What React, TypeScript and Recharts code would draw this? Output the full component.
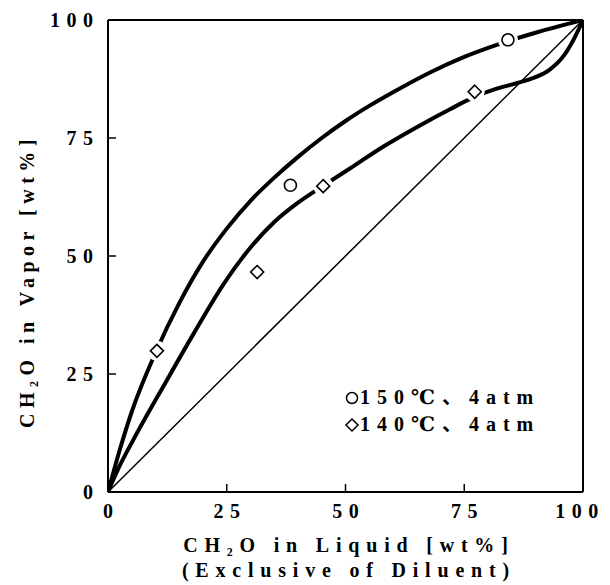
import React from 'react';
import { ComposedChart, Line, Scatter, XAxis, YAxis, ReferenceLine } from 'recharts';

const xTicks = [0, 25, 50, 75, 100];
const yTicks = [0, 25, 50, 75, 100];

const curve150 = [
  { x: 0, y: 0 }, { x: 2.5, y: 9 }, { x: 5, y: 17 }, { x: 10, y: 29.5 },
  { x: 15, y: 40 }, { x: 20, y: 48.8 }, { x: 25, y: 55.8 }, { x: 30, y: 61.7 },
  { x: 35, y: 66.6 }, { x: 40, y: 71 }, { x: 45, y: 75 }, { x: 50, y: 78.6 },
  { x: 55, y: 81.8 }, { x: 60, y: 84.7 }, { x: 68, y: 89 }, { x: 75, y: 92.2 },
  { x: 82, y: 94.8 }, { x: 90, y: 97.3 }, { x: 100, y: 100 },
];

const curve140 = [
  { x: 0, y: 0 }, { x: 2, y: 4.6 }, { x: 5.3, y: 11 }, { x: 12.4, y: 23.7 },
  { x: 18, y: 33.5 }, { x: 24.3, y: 44 }, { x: 30, y: 51.8 }, { x: 35, y: 57.2 },
  { x: 40, y: 61.3 }, { x: 45.5, y: 65 }, { x: 51, y: 68.6 }, { x: 58, y: 73.2 },
  { x: 65, y: 77.3 }, { x: 72, y: 81.1 }, { x: 77.4, y: 83.8 }, { x: 82, y: 85.5 },
  { x: 86, y: 86.6 }, { x: 90, y: 87.9 }, { x: 93, y: 89.5 }, { x: 96, y: 92.5 },
  { x: 98, y: 95.8 }, { x: 100, y: 100 },
];

const diagonal = [{ x: 0, y: 0 }, { x: 100, y: 100 }];

const points150 = [{ x: 38.4, y: 65 }, { x: 84.2, y: 95.8 }];
const points140 = [{ x: 10.3, y: 29.9 }, { x: 31.4, y: 46.6 }, { x: 45.3, y: 64.8 }, { x: 77.2, y: 84.8 }];

const series150 = '150℃、4atm';
const series140 = '140℃、4atm';
const xTitle1 = 'CH₂O in Liquid [wt%]';
const xTitle2 = '(Exclusive of Diluent)';
const yTitle = 'CH₂O in Vapor [wt%]';

const FONT = '"Liberation Serif", "DejaVu Serif", "Noto Sans CJK JP", serif';

const CircleShape = (props: any) => {
  const { cx, cy } = props;
  if (cx == null || cy == null) return null;
  return (
    <g>
      <circle cx={cx} cy={cy} r={10} fill="#fff" />
      <circle cx={cx} cy={cy} r={6} fill="#fff" stroke="#000" strokeWidth={1.6} />
    </g>
  );
};

const DiamondShape = (props: any) => {
  const { cx, cy } = props;
  if (cx == null || cy == null) return null;
  const d = 6.5;
  return (
    <g>
      <circle cx={cx} cy={cy} r={10} fill="#fff" />
      <polygon
        points={`${cx},${cy - d} ${cx + d},${cy} ${cx},${cy + d} ${cx - d},${cy}`}
        fill="#fff"
        stroke="#000"
        strokeWidth={1.6}
      />
    </g>
  );
};

const XTick = (props: any) => {
  const { x, y, payload } = props;
  const v = payload.value;
  const shift = v === 100 ? -3 : 3.2;
  return (
    <g>
      {v !== 0 && v !== 100 && <line x1={x} x2={x} y1={y} y2={y - 8} stroke="#000" strokeWidth={1.5} />}
      <text x={x + shift} y={y + 26} textAnchor="middle" fontFamily={FONT} fontWeight={700} fontSize={20} letterSpacing={6.5} fill="#000">
        {v}
      </text>
    </g>
  );
};

const YTick = (props: any) => {
  const { x, y, payload } = props;
  const v = payload.value;
  return (
    <g>
      {v !== 0 && v !== 100 && <line x1={x} x2={x + 8} y1={y} y2={y} stroke="#000" strokeWidth={1.5} />}
      <text x={x - 8.5} y={y + 6.8} textAnchor="end" fontFamily={FONT} fontWeight={700} fontSize={20} letterSpacing={6.5} fill="#000">
        {v}
      </text>
    </g>
  );
};

const XTitle = (props: any) => {
  const vb = props.viewBox || {};
  const cx = vb.x + vb.width / 2 + 3.4;
  return (
    <g>
      <text x={cx} y={vb.y + 60} textAnchor="middle" fontFamily={FONT} fontWeight={700} fontSize={20} letterSpacing={6.8} fill="#000">
        {xTitle1}
      </text>
      <text x={cx} y={vb.y + 85} textAnchor="middle" fontFamily={FONT} fontWeight={700} fontSize={20} letterSpacing={6.8} fill="#000">
        {xTitle2}
      </text>
    </g>
  );
};

const YTitle = (props: any) => {
  const vb = props.viewBox || {};
  const bx = vb.x - 14.5;
  const cy = vb.y + vb.height / 2 + 25;
  return (
    <text
      x={bx}
      y={cy}
      transform={`rotate(-90 ${bx} ${cy})`}
      textAnchor="middle"
      fontFamily={FONT}
      fontWeight={700}
      fontSize={20}
      letterSpacing={5.5}
      fill="#000"
    >
      {yTitle}
    </text>
  );
};

const LegendBox = () => {
  const rows = [
    { name: series150, kind: 'circle' },
    { name: series140, kind: 'diamond' },
  ];
  return (
    <div
      style={{
        position: 'absolute',
        left: 336,
        top: 376,
        fontFamily: FONT,
        fontWeight: 700,
        fontSize: 20,
        letterSpacing: 7,
        color: '#000',
        lineHeight: '27px',
      }}
    >
      {rows.map((r) => (
        <div key={r.name} style={{ display: 'flex', alignItems: 'center', height: 27, whiteSpace: 'nowrap' }}>
          <svg width={16} height={16} style={{ marginRight: 0, flex: 'none' }}>
            {r.kind === 'circle' ? (
              <circle cx={8} cy={8} r={5.5} fill="#fff" stroke="#000" strokeWidth={1.5} />
            ) : (
              <polygon points="8,2 14,8 8,14 2,8" fill="#fff" stroke="#000" strokeWidth={1.5} />
            )}
          </svg>
          <span>{r.name}</span>
        </div>
      ))}
    </div>
  );
};

export default function App() {
  return (
    <div style={{ position: 'relative', width: 600, height: 575, background: '#fff' }}>
      <ComposedChart width={600} height={575} margin={{ top: 12, right: 25, bottom: 0, left: 40 }}>
        <XAxis
          type="number"
          dataKey="x"
          domain={[0, 100]}
          ticks={xTicks}
          interval={0}
          allowDataOverflow
          height={91}
          tickSize={0}
          tickMargin={0}
          tickLine={false}
          tick={<XTick />}
          axisLine={{ stroke: '#000', strokeWidth: 2 }}
          label={<XTitle />}
        />
        <YAxis
          type="number"
          dataKey="y"
          domain={[0, 100]}
          ticks={yTicks}
          interval={0}
          allowDataOverflow
          width={60}
          tickSize={0}
          tickMargin={0}
          tickLine={false}
          tick={<YTick />}
          axisLine={{ stroke: '#000', strokeWidth: 2 }}
          label={<YTitle />}
        />
        <ReferenceLine y={100} stroke="#000" strokeWidth={2} />
        <ReferenceLine x={100} stroke="#000" strokeWidth={2} />
        <Line data={diagonal} dataKey="y" type="linear" stroke="#000" strokeWidth={1.5} dot={false} legendType="none" isAnimationActive={false} />
        <Line data={curve150} dataKey="y" type="monotone" stroke="#000" strokeWidth={4} dot={false} legendType="none" isAnimationActive={false} />
        <Line data={curve140} dataKey="y" type="monotone" stroke="#000" strokeWidth={4} dot={false} legendType="none" isAnimationActive={false} />
        <Scatter name={series150} data={points150} dataKey="y" shape={<CircleShape />} isAnimationActive={false} />
        <Scatter name={series140} data={points140} dataKey="y" shape={<DiamondShape />} isAnimationActive={false} />
      </ComposedChart>
      <LegendBox />
    </div>
  );
}
